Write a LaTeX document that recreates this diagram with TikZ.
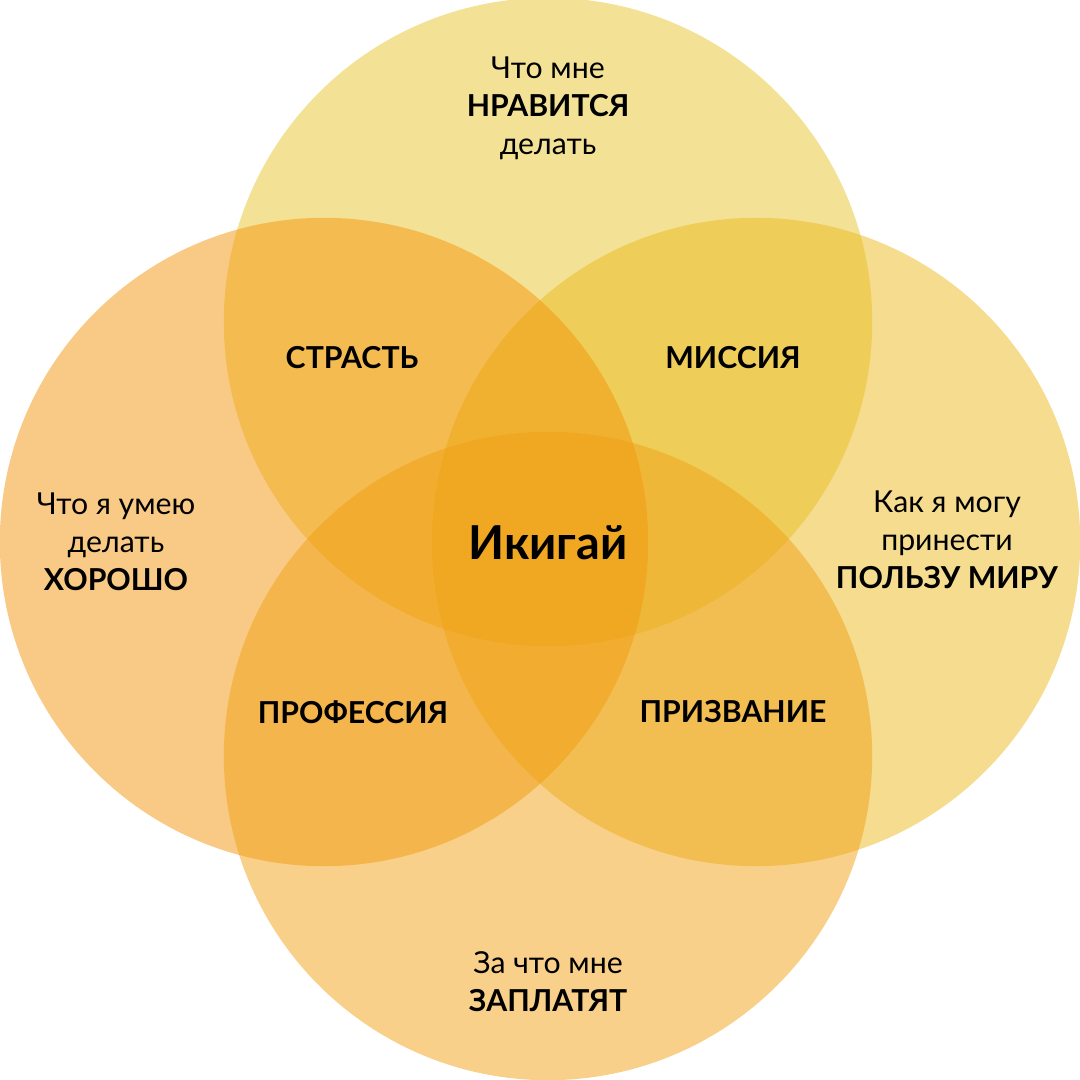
\documentclass[tikz,border=0pt]{standalone}
\usepackage{fontspec}
\setmainfont{Lato}
\usetikzlibrary{positioning}

\definecolor{likeyellow}{HTML}{E7C52D}
\definecolor{goodorange}{HTML}{F3950B}
\definecolor{worldyellow}{HTML}{EBB91F}
\definecolor{paidorange}{HTML}{F1A115}

\begin{document}
\begin{tikzpicture}[
  x=0.01cm, y=-0.01cm,
  ring/.style={circle, draw=none, minimum size=6.48cm, inner sep=0pt, fill opacity=0.5},
  txt/.style={align=center, font=\fontsize{8.6}{10.8}\selectfont, text=black},
  area/.style={align=center, font=\fontsize{8.6}{10.8}\selectfont\bfseries, text=black}
]
\useasboundingbox (0,0) rectangle (1080,1080);

% Four circles (yellow ones first)
\node[ring, fill=likeyellow]  (like)  at (548,322) {};
\node[ring, fill=worldyellow] (world) at (756,542) {};
\node[ring, fill=goodorange]  (good)  at (324,542) {};
\node[ring, fill=paidorange]  (paid)  at (548,756) {};

% Outer labels
\node[txt] (liketxt)  at (548,108) {Что мне\\\textbf{НРАВИТСЯ}\\делать};
\node[txt] (goodtxt)  at (116,542) {Что я умею\\делать\\\textbf{ХОРОШО}};
\node[txt] (worldtxt) at (947,540) {Как я могу\\принести\\\textbf{ПОЛЬЗУ МИРУ}};
\node[txt] (paidtxt)  at (548,982) {За что мне\\\textbf{ЗАПЛАТЯТ}};

% Overlaps
\node[area] (passion)  at (352,358) {СТРАСТЬ};
\node[area] (mission)  at (733,358) {МИССИЯ};
\node[area] (career)   at (353,712) {ПРОФЕССИЯ};
\node[area] (vocation) at (733,712) {ПРИЗВАНИЕ};

% Centre
\node[area, font=\fontsize{13.3}{15}\selectfont\bfseries] (ikigai) at (548,543) {Икигай};

\end{tikzpicture}
\end{document}
